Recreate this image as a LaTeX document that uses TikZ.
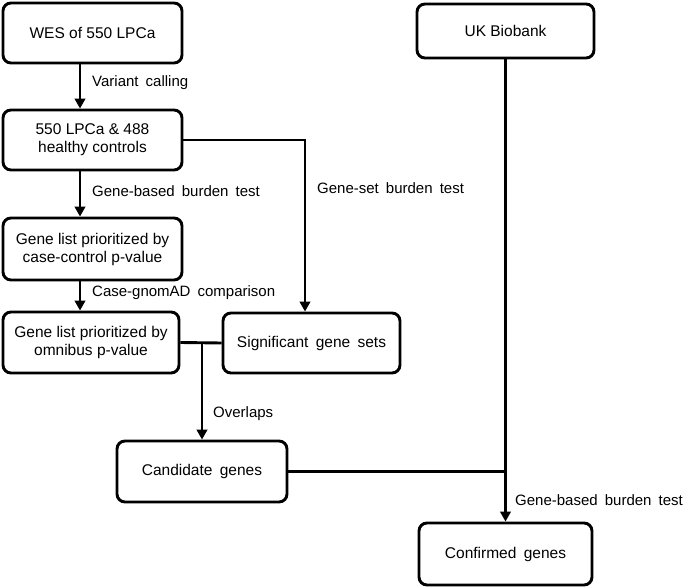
\documentclass[tikz,border=0pt]{standalone}
\usepackage{fontspec}
\setmainfont{Liberation Sans}
\newfontfamily\widefont[WordSpace=1.7]{Liberation Sans}
\usetikzlibrary{arrows.meta}
\begin{document}
\begin{tikzpicture}[x=1pt,y=-1pt,
  box/.style={draw, line width=2.9pt, rounded corners=8pt, align=center, inner sep=0pt, font=\fontsize{15.5}{18}\selectfont},
  widebox/.style={box, font=\widefont\fontsize{15.5}{18}\selectfont},
  lbl/.style={anchor=west, inner sep=0pt, font=\widefont\fontsize{15}{18}\selectfont},
  arr/.style={line width=2.9pt, -{Triangle[length=10pt,width=10.5pt]}},
  ln/.style={line width=2.9pt}]
\useasboundingbox (0,0) rectangle (685,588);
\node[box, minimum width=179pt, minimum height=60pt] (wes) at (92.5,33) {WES of 550 LPCa};
\node[box, minimum width=179pt, minimum height=60pt] (cohort) at (92.5,140) {550 LPCa \& 488\\healthy controls};
\node[box, minimum width=179pt, minimum height=62pt] (cc) at (92.5,249) {Gene list prioritized by\\case-control p-value};
\node[box, minimum width=176pt, minimum height=61pt] (omni) at (91,342.5) {Gene list prioritized by\\omnibus p-value};
\node[widebox, minimum width=177pt, minimum height=60pt] (sig) at (311.5,343) {Significant gene sets};
\node[widebox, minimum width=170pt, minimum height=61pt] (cand) at (202,471.5) {Candidate genes};
\node[box, minimum width=177pt, minimum height=54pt] (ukb) at (505.5,31) {UK Biobank};
\node[widebox, minimum width=173pt, minimum height=62pt] (conf) at (505.5,554) {Confirmed genes};

\draw[arr] ([xshift=-12.5pt]wes.south) -- ([xshift=-12.5pt]cohort.north);
\draw[arr] ([xshift=-12.5pt]cohort.south) -- ([xshift=-12.5pt]cc.north);
\draw[arr] ([xshift=-12.5pt]cc.south) -- ([xshift=-11pt]omni.north);
\draw[arr] (cohort.east) -| ([xshift=-6.5pt]sig.north);
\draw[ln] (omni.east) -- (sig.west);
\coordinate (junc) at (omni.east -| cand.north);
\draw[arr] (junc) -- (cand.north);
\draw[arr] (ukb.south) -- (conf.north);
\coordinate (meet) at (cand.east -| ukb.south);
\draw[ln] (cand.east) -- (meet);

\node[lbl] (l1) at (92,83) {Variant calling};
\node[lbl] (l2) at (92,191) {Gene-based burden test};
\node[lbl] (l3) at (92,293) {Case-gnomAD comparison};
\node[lbl] (l4) at (317,188) {Gene-set burden test};
\node[lbl] (l5) at (213,414) {Overlaps};
\node[lbl] (l6) at (515,500) {Gene-based burden test};
\end{tikzpicture}
\end{document}
